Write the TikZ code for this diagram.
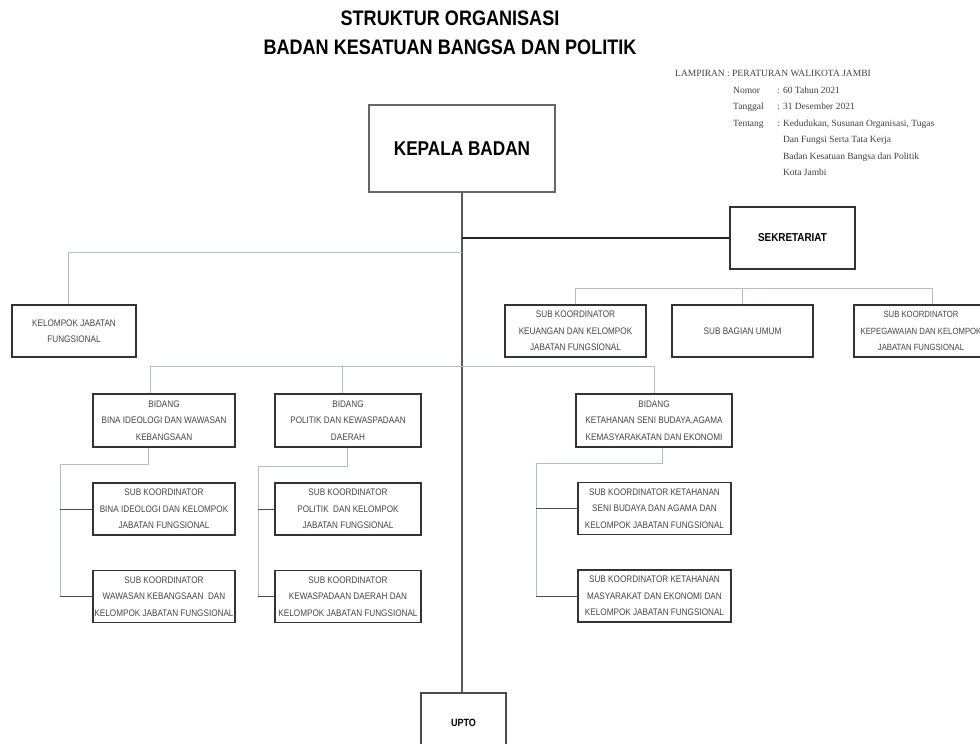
\documentclass[tikz,border=0pt]{standalone}
\usepackage{fontspec}
\setmainfont{Liberation Serif}
\newfontfamily\narrowsans[FakeStretch=0.86]{Liberation Sans}
\definecolor{boxline}{HTML}{333333}
\definecolor{boxtext}{HTML}{454545}
\definecolor{liteline}{HTML}{B5BDCB}
\definecolor{trunkline}{HTML}{5A5A5A}

\begin{document}
\begin{tikzpicture}[x=1pt,y=-1pt,
  box/.style={draw=boxline, line width=1.5pt, inner sep=0pt, align=center, text=boxtext,
    font=\narrowsans\fontsize{9.5}{16.5}\selectfont, minimum height=52pt},
  boldbox/.style={box, text=black, font=\narrowsans\bfseries\fontsize{11.5}{14}\selectfont},
  trunk/.style={draw=trunkline, line width=2.8pt},
  sekline/.style={draw=black!85, line width=1.8pt},
  lite/.style={draw=liteline, line width=1pt},
  stub/.style={draw=black!70, line width=1pt}]
\useasboundingbox (0,0) rectangle (980,744);

\node[font=\narrowsans\bfseries\fontsize{21}{29}\selectfont, align=center] (judul) at (450,33)
  {STRUKTUR ORGANISASI\\BADAN KESATUAN BANGSA DAN POLITIK};
\node[anchor=north west, inner sep=0pt, text=black!75, font=\fontsize{9.5}{16.5}\selectfont] (lampiran) at (675,65)
  {\begin{tabular}{@{}p{58pt}@{}p{44pt}@{}l@{}}
   \multicolumn{3}{@{}l@{}}{LAMPIRAN : PERATURAN WALIKOTA JAMBI}\\
   & Nomor & : 60 Tahun 2021\\
   & Tanggal & : 31 Desember 2021\\
   & Tentang & : Kedudukan, Susunan Organisasi, Tugas\\
   & & \hphantom{: }Dan Fungsi Serta Tata Kerja\\
   & & \hphantom{: }Badan Kesatuan Bangsa dan Politik\\
   & & \hphantom{: }Kota Jambi
   \end{tabular}};

\node[box, draw=black!60, line width=1.2pt, text=black, font=\narrowsans\bfseries\fontsize{20}{24}\selectfont,
  minimum width=186pt, minimum height=87pt] (kepala) at (462,148.5) {KEPALA BADAN};
\node[boldbox, minimum width=125pt, minimum height=62pt] (sekretariat) at (792.5,238) {SEKRETARIAT};
\node[box, minimum width=124pt] (kjf) at (74,331) {KELOMPOK JABATAN\\FUNGSIONAL};
\node[box, minimum width=141pt] (keuangan) at (575.5,331) {SUB KOORDINATOR\\KEUANGAN DAN KELOMPOK\\JABATAN FUNGSIONAL};
\node[box, minimum width=141pt] (umum) at (742.5,331) {SUB BAGIAN UMUM};
\node[box, font=\narrowsans\fontsize{9}{16.5}\selectfont, minimum width=134pt] (kepegawaian) at (921,331)
  {SUB KOORDINATOR\\KEPEGAWAIAN DAN KELOMPOK\\JABATAN FUNGSIONAL};

\node[box, minimum width=142pt, minimum height=53pt] (bidang1) at (164,420.5) {BIDANG\\BINA IDEOLOGI DAN WAWASAN\\KEBANGSAAN};
\node[box, minimum width=146pt, minimum height=53pt] (bidang2) at (348,420.5) {BIDANG\\POLITIK DAN KEWASPADAAN\\DAERAH};
\node[box, minimum width=156pt, minimum height=53pt] (bidang3) at (654,420.5) {BIDANG\\KETAHANAN SENI BUDAYA,AGAMA\\KEMASYARAKATAN DAN EKONOMI};

\node[box, minimum width=142pt] (subbina) at (164,509) {SUB KOORDINATOR\\BINA IDEOLOGI DAN KELOMPOK\\JABATAN FUNGSIONAL};
\node[box, minimum width=142pt] (subwawasan) at (164,596.5) {SUB KOORDINATOR\\WAWASAN KEBANGSAAN \ DAN\\KELOMPOK JABATAN FUNGSIONAL};
\node[box, minimum width=146pt] (subpolitik) at (348,509) {SUB KOORDINATOR\\POLITIK \ DAN KELOMPOK\\JABATAN FUNGSIONAL};
\node[box, minimum width=146pt] (subwaspada) at (348,596.5) {SUB KOORDINATOR\\KEWASPADAAN DAERAH DAN\\KELOMPOK JABATAN FUNGSIONAL};
\node[box, minimum width=153pt] (subseni) at (654.5,508.5) {SUB KOORDINATOR KETAHANAN\\SENI BUDAYA DAN AGAMA DAN\\KELOMPOK JABATAN FUNGSIONAL};
\node[box, minimum width=153pt] (submasy) at (654.5,596) {SUB KOORDINATOR KETAHANAN\\MASYARAKAT DAN EKONOMI DAN\\KELOMPOK JABATAN FUNGSIONAL};

\node[boldbox, draw=black!70, line width=1.2pt, font=\narrowsans\bfseries\fontsize{10.5}{12}\selectfont,
  minimum width=85pt, minimum height=60pt] (upto) at (463.5,723) {UPTO};

\draw[trunk] (kepala.south) -- (kepala.south |- upto.north);
\draw[sekline] (kepala.south |- sekretariat.west) -- (sekretariat.west);
\draw[lite] (kepala.south |- 0,252) -| ([xshift=-6pt]kjf.north);
\draw[lite] (keuangan.north) -- (keuangan.north |- 0,288) -| ([xshift=11pt]kepegawaian.north);
\draw[lite] (umum.north) -- (umum.north |- 0,288);
\draw[lite] ([xshift=-14pt]bidang1.north) |- (bidang3.north |- 0,366) -- (bidang3.north);
\draw[lite] ([xshift=-6pt]bidang2.north) -- ++(0,-28);

\coordinate (t1) at (60,464);
\coordinate (t2) at (258,466);
\coordinate (t3) at (536,463);
\draw[lite] ([xshift=-16pt]bidang1.south) |- (t1) -- (t1 |- subwawasan.west);
\draw[lite] ([xshift=-1pt]bidang2.south) |- (t2) -- (t2 |- subwaspada.west);
\draw[lite] ([xshift=8pt]bidang3.south) |- (t3) -- (t3 |- submasy.west);
\foreach \t/\s in {t1/subbina, t1/subwawasan, t2/subpolitik, t2/subwaspada, t3/subseni, t3/submasy}
  \draw[stub] (\t |- \s.west) -- (\s.west);
\end{tikzpicture}
\end{document}
